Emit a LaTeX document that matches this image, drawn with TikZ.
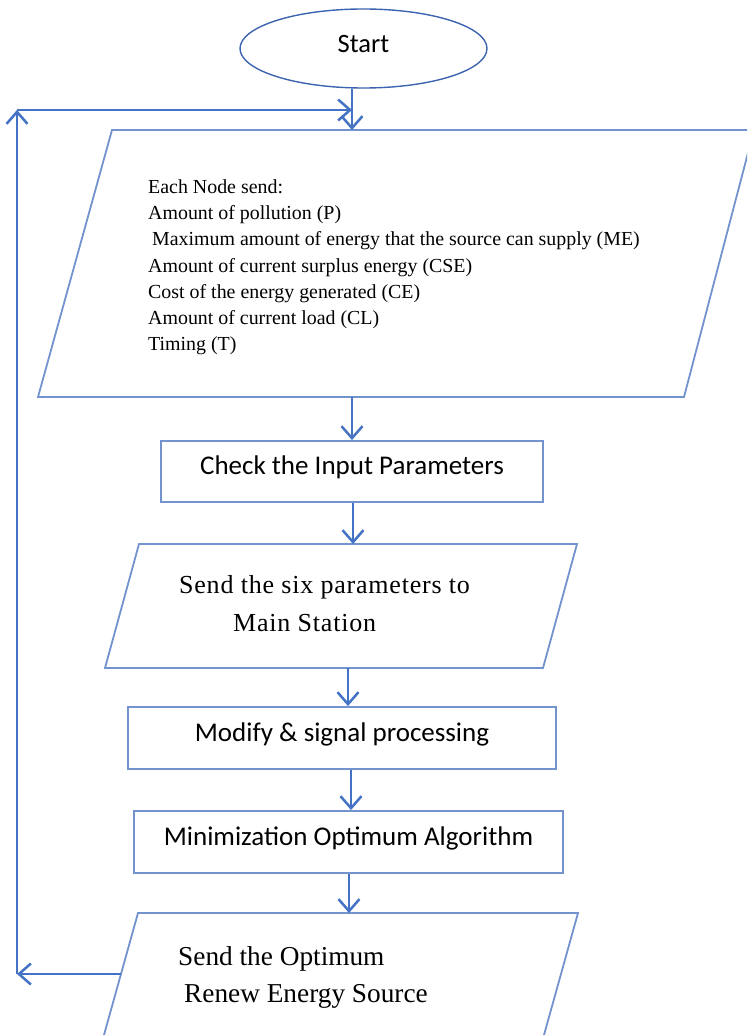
\documentclass[tikz,border=0pt]{standalone}
\usepackage{fontspec}
\setmainfont{Liberation Serif}
\newfontfamily\calibri{Carlito}
\usetikzlibrary{shapes.geometric,arrows.meta}
\definecolor{conncol}{HTML}{4472C4}
\definecolor{shapecol}{HTML}{7393CF}
\definecolor{ellcol}{HTML}{3D64B0}
\begin{document}
\begin{tikzpicture}[x=1pt,y=-1pt,
  conn/.style={draw=conncol, line width=2.7pt, -{Straight Barb[length=12pt,width=21pt,line width=2.5pt]}},
  shapeline/.style={draw=shapecol, line width=1.8pt, line join=miter},
  procbox/.style={draw=shapecol, line width=1.9pt, rectangle, inner sep=0pt,
     font=\calibri\fontsize{27}{32}\selectfont, text height=17.4pt, text depth=11pt},
  startbox/.style={draw=ellcol, line width=1.4pt, ellipse, inner sep=0pt,
     font=\calibri\fontsize{26.5}{32}\selectfont, text height=17pt, text depth=8pt},
  listtext/.style={inner sep=0pt, align=left, anchor=north west,
     font=\fontsize{19.9}{26.2}\selectfont},
  bigtext/.style={inner sep=0pt, align=left, anchor=north west}
]
\useasboundingbox (0,0) rectangle (747,1035);
\fill[white] (0,0) rectangle (747,1035);
\clip (0,0) rectangle (747,1035);

% Start
\node[startbox, minimum width=247pt, minimum height=79pt] (start) at (363.5,48.5) {Start};

% Input parallelogram
\draw[shapeline] (112,130) -- (754,130) -- (684,397) -- (38,397) -- cycle;
\coordinate (p1in) at (352,130);
\coordinate (p1out) at (352,397);
\node[listtext] (p1) at (148,179.5) {Each Node send:\\
Amount of pollution (P)\\
\hspace*{4pt}Maximum amount of energy that the source can supply (ME)\\
Amount of current surplus energy (CSE)\\
Cost of the energy generated (CE)\\
Amount of current load (CL)\\
Timing (T)};

% Check box
\node[procbox, minimum width=382pt, minimum height=61pt] (b1) at (352,471.5) {Check the Input Parameters};

% Send six parameters parallelogram
\draw[shapeline] (139,544) -- (577,544) -- (543,668) -- (105,668) -- cycle;
\coordinate (p2in) at (353,544);
\coordinate (p2out) at (348,668);
\node[bigtext, font=\fontsize{26}{38}\selectfont\addfontfeature{LetterSpace=3}] (p2) at (179,575)
  {Send the six parameters to\\\hspace*{54pt}Main Station};

% Modify box
\node[procbox, minimum width=428pt, minimum height=62pt] (b2) at (342,738) {Modify \& signal processing};

% Minimization box
\node[procbox, minimum width=429pt, minimum height=62pt] (b3) at (348.5,842) {Minimization Optimum Algorithm};

% Output parallelogram
\draw[shapeline] (138,913) -- (578,913) -- (539.8,1050) -- (99.8,1050) -- cycle;
\coordinate (p3in) at (349,913);
\coordinate (p3left) at (121,974);
\node[bigtext, font=\fontsize{27.3}{37}\selectfont] (p3) at (178,946)
  {Send the Optimum\\\hspace*{6pt}Renew Energy Source};

% loop coordinates
\coordinate (fbB) at (17,974);
\coordinate (fbC) at (17,110);
\coordinate (fbD) at (352,110);

% connectors
\draw[conn] (start.south -| p1in) -- (p1in);
\draw[conn] (p1out) -- (b1.north);
\draw[conn] (b1.south -| p2in) -- (p2in);
\draw[conn] (p2out) -- (p2out |- b2.north);
\draw[conn] (b2.south -| 351,0) -- (b3.north -| 351,0);
\draw[conn] (b3.south -| p3in) -- (p3in);
\draw[conn] (p3left) -- (fbB);
\draw[conn] (fbB) -- (fbC);
\draw[conn] (fbC) -- (fbD);
\end{tikzpicture}
\end{document}
